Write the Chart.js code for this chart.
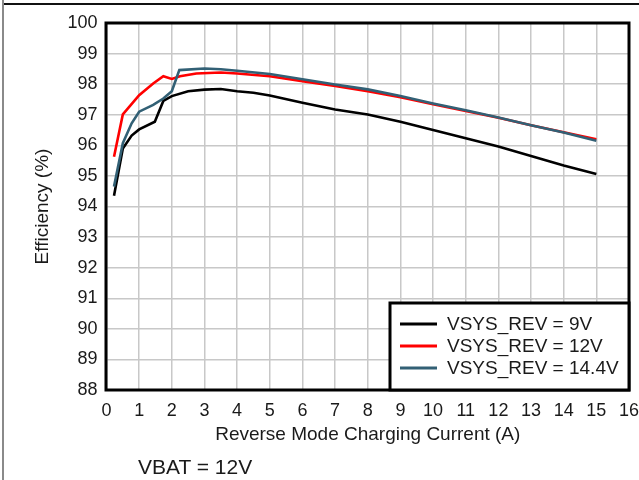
<!DOCTYPE html>
<html>
<head>
<meta charset="utf-8">
<script src="https://cdn.jsdelivr.net/npm/chart.js@4.4.1/dist/chart.umd.min.js"></script>
<style>
  html, body { margin: 0; padding: 0; background: #fff; }
  #wrap { position: relative; width: 639px; height: 480px; overflow: hidden; }
  #frameLeft { position: absolute; left: 2px; top: 0; width: 2px; height: 480px; background: #8a8a8a; }
  #frameTop { position: absolute; left: 4px; top: 3px; width: 640px; height: 2px; background: #111; }
  #note { position: absolute; left: 138px; top: 455px; font: 21px "Liberation Sans", Arial, sans-serif; color: #1a1a1a; line-height: 24px; }
</style>
</head>
<body>
<div id="wrap">
  <canvas id="effChart" width="639" height="480"></canvas>
  <div id="frameLeft"></div>
  <div id="frameTop"></div>
  <div id="note">VBAT = 12V</div>
</div>
<script>
// popisky a data
const seriesLabels = ['VSYS_REV = 9V', 'VSYS_REV = 12V', 'VSYS_REV = 14.4V'];
const seriesColors = ['#000000', '#ff0000', '#326075'];

const current9V = [0.23, 0.5, 0.77, 1.0, 1.48, 1.74, 2.0, 2.5, 3.0, 3.5, 4.0, 4.5, 5, 6, 7, 8, 9, 10, 11, 12, 13, 14, 15];
const eff9V = [94.35, 95.9, 96.32, 96.52, 96.77, 97.45, 97.61, 97.77, 97.82, 97.84, 97.77, 97.72, 97.63, 97.39, 97.17, 97.01, 96.77, 96.5, 96.23, 95.96, 95.65, 95.34, 95.06];

const current12V = [0.23, 0.5, 1.0, 1.43, 1.74, 2.0, 2.25, 2.75, 3.5, 4.0, 5, 6, 7, 8, 9, 10, 11, 12, 13, 14, 15];
const eff12V = [95.63, 97.01, 97.64, 98.02, 98.26, 98.17, 98.26, 98.35, 98.38, 98.35, 98.26, 98.1, 97.94, 97.77, 97.57, 97.34, 97.12, 96.9, 96.66, 96.43, 96.2];

const current14V = [0.23, 0.5, 0.77, 1.0, 1.43, 1.74, 2.0, 2.23, 3.0, 3.5, 4.0, 5, 6, 7, 8, 9, 10, 11, 12, 13, 14, 15];
const eff14V = [94.65, 96.07, 96.72, 97.1, 97.32, 97.53, 97.77, 98.46, 98.51, 98.49, 98.44, 98.33, 98.16, 97.99, 97.83, 97.61, 97.37, 97.15, 96.91, 96.66, 96.42, 96.15];

const xMin = 0, xMax = 16, xStep = 1;
const yMin = 88, yMax = 100, yStep = 1;

const fontFamily = '"Liberation Sans", Arial, sans-serif';
const textColor = '#1a1a1a';

function toPoints(xs, ys) {
    return xs.map((x, i) => ({ x: x, y: ys[i] }));
}

// rámeček grafu a legenda uvnitř plochy
const boxPlugin = {
    id: 'boxPlugin',
    afterDatasetsDraw(chart) {
        const ctx = chart.ctx;
        const a = chart.chartArea;
        ctx.save();
        ctx.strokeStyle = '#000';
        ctx.lineWidth = 3;
        ctx.strokeRect(a.left - 0.5, a.top, a.right - a.left + 0.5, a.bottom - a.top);

        // legenda
        const w = 239, h = 87;
        const lx = a.right - w, ly = a.bottom - h;
        ctx.fillStyle = '#fff';
        ctx.fillRect(lx, ly, w, h);
        ctx.strokeRect(lx, ly, w, h);
        ctx.font = '19px ' + fontFamily;
        ctx.textBaseline = 'middle';
        chart.data.datasets.forEach((ds, i) => {
            const y = ly + 21 + i * 22;
            ctx.strokeStyle = ds.borderColor;
            ctx.lineWidth = 3;
            ctx.beginPath();
            ctx.moveTo(lx + 10, y);
            ctx.lineTo(lx + 47, y);
            ctx.stroke();
            ctx.fillStyle = textColor;
            ctx.fillText(ds.label, lx + 57, y + 1);
        });
        ctx.restore();
    }
};

const ctx = document.getElementById('effChart').getContext('2d');
new Chart(ctx, {
    type: 'line',
    data: {
        datasets: [
            { label: seriesLabels[0], data: toPoints(current9V, eff9V), borderColor: seriesColors[0], order: 2 },
            { label: seriesLabels[1], data: toPoints(current12V, eff12V), borderColor: seriesColors[1], order: 1 },
            { label: seriesLabels[2], data: toPoints(current14V, eff14V), borderColor: seriesColors[2], order: 0 }
        ]
    },
    options: {
        responsive: false,
        animation: false,
        elements: {
            line: { borderWidth: 2.6, tension: 0, fill: false },
            point: { radius: 0 }
        },
        layout: { padding: { top: 23, right: 10, bottom: 30, left: 0 } },
        plugins: {
            legend: { display: false },
            tooltip: { enabled: false }
        },
        scales: {
            x: {
                type: 'linear',
                min: xMin,
                max: xMax,
                afterFit: (scale) => {
                    scale.height = 60;
                    scale.paddingLeft = 0;
                    scale.paddingRight = 0;
                },
                grid: { color: '#c8c8c8', lineWidth: 1.5, drawTicks: false },
                border: { display: false },
                ticks: {
                    stepSize: xStep,
                    autoSkip: false,
                    maxRotation: 0,
                    padding: 10,
                    color: textColor,
                    font: { family: fontFamily, size: 18 }
                },
                title: {
                    display: true,
                    text: 'Reverse Mode Charging Current (A)',
                    color: textColor,
                    font: { family: fontFamily, size: 19 },
                    padding: { top: 0, bottom: 4 }
                }
            },
            y: {
                min: yMin,
                max: yMax,
                afterFit: (scale) => { scale.width = 106.5; },
                grid: { color: '#c8c8c8', lineWidth: 1.5, drawTicks: false },
                border: { display: false },
                ticks: {
                    stepSize: yStep,
                    autoSkip: false,
                    padding: 9,
                    color: textColor,
                    font: { family: fontFamily, size: 18 }
                },
                title: {
                    display: true,
                    text: 'Efficiency (%)',
                    color: textColor,
                    font: { family: fontFamily, size: 19 },
                    padding: { top: 31, bottom: 0 }
                }
            }
        }
    },
    plugins: [boxPlugin]
});
</script>
</body>
</html>
